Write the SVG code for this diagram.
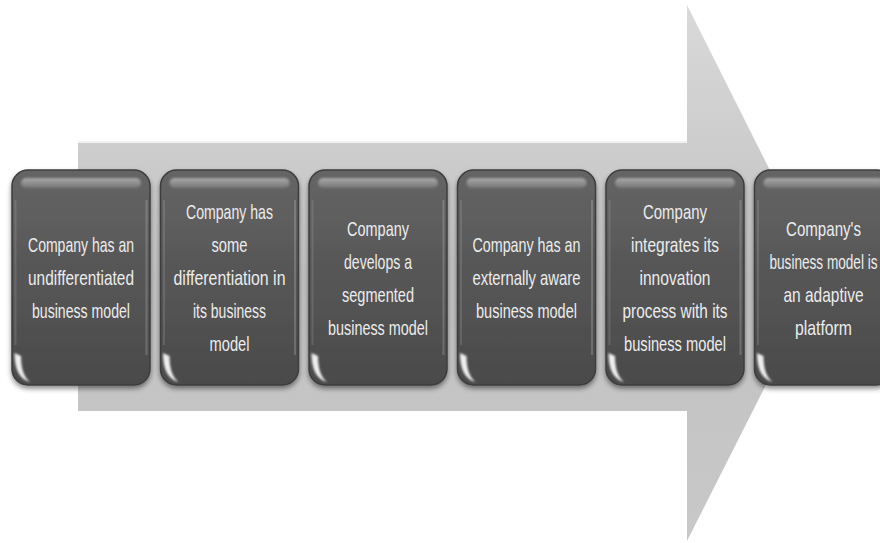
<svg xmlns="http://www.w3.org/2000/svg" xmlns:xlink="http://www.w3.org/1999/xlink" width="880" height="543" viewBox="0 0 880 543">
  <defs>
    <linearGradient id="arrowGrad" x1="0" y1="0" x2="0" y2="1">
      <stop offset="0" stop-color="#d9d9d9"/>
      <stop offset="0.5" stop-color="#c2c2c2"/>
      <stop offset="1" stop-color="#c8c8c8"/>
    </linearGradient>
    <linearGradient id="boxGrad" x1="0" y1="0" x2="0" y2="1">
      <stop offset="0" stop-color="#656565"/>
      <stop offset="0.45" stop-color="#575757"/>
      <stop offset="1" stop-color="#4a4a4a"/>
    </linearGradient>
    <linearGradient id="barGrad" x1="0" y1="0" x2="0" y2="1">
      <stop offset="0" stop-color="#ffffff" stop-opacity="0.45"/>
      <stop offset="1" stop-color="#ffffff" stop-opacity="0.12"/>
    </linearGradient>
    <filter id="shadow" x="-10%" y="-10%" width="120%" height="125%">
      <feDropShadow dx="0" dy="3" stdDeviation="2.5" flood-color="#000" flood-opacity="0.45"/>
    </filter>
    <filter id="soft" x="-20%" y="-20%" width="140%" height="140%">
      <feGaussianBlur stdDeviation="0.8"/>
    </filter>
    <g id="boxShape">
      <rect x="0" y="0" width="138" height="215" rx="16" ry="16" fill="url(#boxGrad)" stroke="#3c3c3c" stroke-width="1.5" filter="url(#shadow)"/>
      <rect x="9" y="8" width="120" height="10" rx="5" fill="url(#barGrad)" filter="url(#soft)"/>
      <line x1="3.5" y1="30" x2="3.5" y2="175" stroke="#ffffff" stroke-opacity="0.12" stroke-width="2"/>
      <line x1="134.5" y1="30" x2="134.5" y2="185" stroke="#ffffff" stroke-opacity="0.18" stroke-width="2"/>
      <path d="M2.5,183 Q2.5,208 18,212 Q9,205 9,186 Z" fill="#ffffff" fill-opacity="0.9" filter="url(#soft)"/>
    </g>
    <style>
      .lbl { font-family: "Liberation Sans", Arial, sans-serif; font-size: 21px; fill: #ececec; text-anchor: middle; }
    </style>
  </defs>

  <rect width="880" height="543" fill="#ffffff"/>

  <g id="connectors">
    <g id="flow-arrow">
      <path d="M78,141 L687,141 L687,5 L822,274 L687,541 L687,411 L78,411 Z" fill="url(#arrowGrad)"/>
      <line x1="78" y1="142" x2="687" y2="142" stroke="#f2f2f2" stroke-width="2"/>
    </g>
  </g>

  <g id="node1" transform="translate(12,170)">
    <use xlink:href="#boxShape"/>
    <text class="lbl" x="69" y="82" textLength="106" lengthAdjust="spacingAndGlyphs">Company has an</text>
    <text class="lbl" x="69" y="115" textLength="106" lengthAdjust="spacingAndGlyphs">undifferentiated</text>
    <text class="lbl" x="69" y="148" textLength="98" lengthAdjust="spacingAndGlyphs">business model</text>
  </g>

  <g id="node2" transform="translate(160.5,170)">
    <use xlink:href="#boxShape"/>
    <text class="lbl" x="69" y="49" textLength="87" lengthAdjust="spacingAndGlyphs">Company has</text>
    <text class="lbl" x="69" y="82" textLength="36" lengthAdjust="spacingAndGlyphs">some</text>
    <text class="lbl" x="69" y="115" textLength="112" lengthAdjust="spacingAndGlyphs">differentiation in</text>
    <text class="lbl" x="69" y="148" textLength="73" lengthAdjust="spacingAndGlyphs">its business</text>
    <text class="lbl" x="69" y="181" textLength="40" lengthAdjust="spacingAndGlyphs">model</text>
  </g>

  <g id="node3" transform="translate(309,170)">
    <use xlink:href="#boxShape"/>
    <text class="lbl" x="69" y="65.5" textLength="62" lengthAdjust="spacingAndGlyphs">Company</text>
    <text class="lbl" x="69" y="98.5" textLength="68" lengthAdjust="spacingAndGlyphs">develops a</text>
    <text class="lbl" x="69" y="131.5" textLength="72" lengthAdjust="spacingAndGlyphs">segmented</text>
    <text class="lbl" x="69" y="164.5" textLength="100" lengthAdjust="spacingAndGlyphs">business model</text>
  </g>

  <g id="node4" transform="translate(457.5,170)">
    <use xlink:href="#boxShape"/>
    <text class="lbl" x="69" y="82" textLength="108" lengthAdjust="spacingAndGlyphs">Company has an</text>
    <text class="lbl" x="69" y="115" textLength="108" lengthAdjust="spacingAndGlyphs">externally aware</text>
    <text class="lbl" x="69" y="148" textLength="101" lengthAdjust="spacingAndGlyphs">business model</text>
  </g>

  <g id="node5" transform="translate(606,170)">
    <use xlink:href="#boxShape"/>
    <text class="lbl" x="69" y="49" textLength="64" lengthAdjust="spacingAndGlyphs">Company</text>
    <text class="lbl" x="69" y="82" textLength="88" lengthAdjust="spacingAndGlyphs">integrates its</text>
    <text class="lbl" x="69" y="115" textLength="71" lengthAdjust="spacingAndGlyphs">innovation</text>
    <text class="lbl" x="69" y="148" textLength="105" lengthAdjust="spacingAndGlyphs">process with its</text>
    <text class="lbl" x="69" y="181" textLength="102" lengthAdjust="spacingAndGlyphs">business model</text>
  </g>

  <g id="node6" transform="translate(754.5,170)">
    <use xlink:href="#boxShape"/>
    <text class="lbl" x="69" y="65.5" textLength="75" lengthAdjust="spacingAndGlyphs">Company's</text>
    <text class="lbl" x="69" y="98.5" textLength="108" lengthAdjust="spacingAndGlyphs">business model is</text>
    <text class="lbl" x="69" y="131.5" textLength="80" lengthAdjust="spacingAndGlyphs">an adaptive</text>
    <text class="lbl" x="69" y="164.5" textLength="57" lengthAdjust="spacingAndGlyphs">platform</text>
  </g>
</svg>
